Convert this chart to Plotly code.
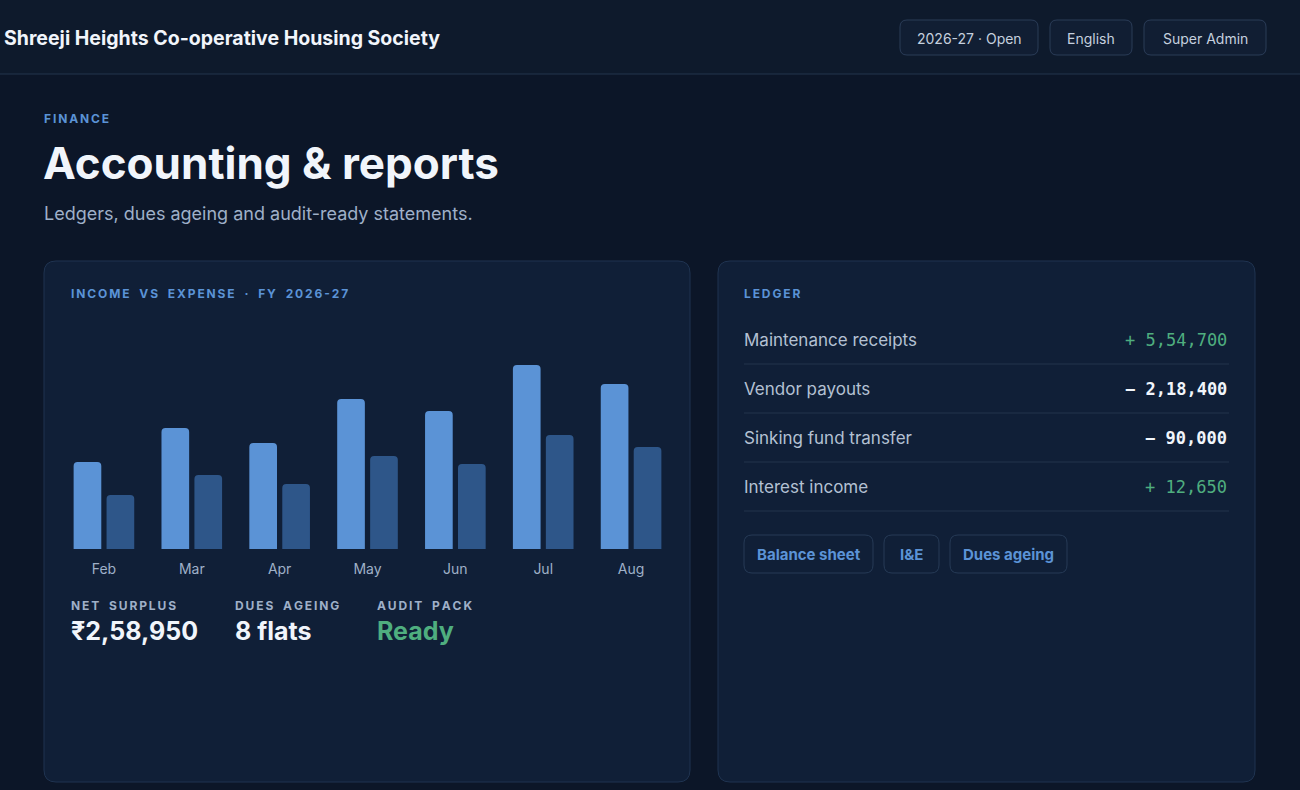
import plotly.graph_objects as go

W, H = 1300, 790

# Datos del gráfico (altura relativa de barras)
meses = ['Feb', 'Mar', 'Apr', 'May', 'Jun', 'Jul', 'Aug']
ingresos = [87, 121, 106, 150, 138, 184, 165]
gastos = [54, 74, 65, 93, 85, 114, 102]

ledger_items = ['Maintenance receipts', 'Vendor payouts', 'Sinking fund transfer', 'Interest income']
ledger_values = ['+ 5,54,700', '− 2,18,400', '− 90,000', '+ 12,650']
ledger_colors = ['#4fae7f', '#f1f5fb', '#f1f5fb', '#4fae7f']

kpi_labels = ['NET SURPLUS', 'DUES AGEING', 'AUDIT PACK']
kpi_values = ['₹2,58,950', '8 flats', 'Ready']
kpi_colors = ['#f1f5fb', '#f1f5fb', '#4fae7f']

header_pills = ['2026-27 · Open', 'English', 'Super Admin']
report_buttons = ['Balance sheet', 'I&E', 'Dues ageing']

FONT = 'Inter, Liberation Sans, sans-serif'
MONO = 'DejaVu Sans Mono, monospace'


def px(x):
    return x / W


def py(y):
    return 1 - y / H


def spaced(s):
    # letter-spacing aproximado con espacios finos
    return '\u2009'.join(s.replace(' ', '\u2002'))


def rrect(x0, y0, x1, y1, r, fill, line, lw=1):
    p = (f'M {px(x0 + r)},{py(y0)} L {px(x1 - r)},{py(y0)} '
         f'Q {px(x1)},{py(y0)} {px(x1)},{py(y0 + r)} L {px(x1)},{py(y1 - r)} '
         f'Q {px(x1)},{py(y1)} {px(x1 - r)},{py(y1)} L {px(x0 + r)},{py(y1)} '
         f'Q {px(x0)},{py(y1)} {px(x0)},{py(y1 - r)} L {px(x0)},{py(y0 + r)} '
         f'Q {px(x0)},{py(y0)} {px(x0 + r)},{py(y0)} Z')
    return dict(type='path', path=p, xref='paper', yref='paper', fillcolor=fill,
                line=dict(color=line, width=lw), layer='below')


shapes = []
annotations = []


def text(x, y, s, size, color, anchor='left', family=FONT, bold=False):
    if anchor == 'left':
        x -= 2
    annotations.append(dict(x=px(x), y=py(y), xref='paper', yref='paper', text=f'<b>{s}</b>' if bold else s,
                            showarrow=False, xanchor=anchor, yanchor='middle',
                            font=dict(size=size, color=color, family=family)))


# cabecera
shapes.append(dict(type='rect', xref='paper', yref='paper', x0=0, x1=1, y0=py(74), y1=1,
                   fillcolor='#0e1a2c', line=dict(width=0), layer='below'))
shapes.append(dict(type='line', xref='paper', yref='paper', x0=0, x1=1, y0=py(74), y1=py(74),
                   line=dict(color='#22344d', width=1), layer='below'))
text(4, 38, 'Shreeji Heights Co-operative Housing Society', 19.5, '#f1f5fb', bold=True)
pill_x = [(900, 1038), (1050, 1132), (1144, 1266)]
for (a, b), s in zip(pill_x, header_pills):
    shapes.append(rrect(a, 20, b, 55, 7, '#111e33', '#2a3c57'))
    text((a + b) / 2, 38, s, 14, '#c5d0df', anchor='center')

# títulos
text(44, 118, spaced('FINANCE'), 12, '#5b93d6', bold=True)
text(43, 163, 'Accounting &amp; reports', 44, '#f1f5fb', bold=True)
text(44, 213, 'Ledgers, dues ageing and audit-ready statements.', 18, '#9fb0c8')

# tarjetas
shapes.append(rrect(44, 261, 690, 782, 12, '#101f37', '#1f3350'))
shapes.append(rrect(718, 261, 1255, 782, 12, '#101f37', '#1f3350'))
text(71, 293, spaced('INCOME VS EXPENSE · FY 2026-27'), 12, '#5b93d6', bold=True)
text(744, 293, spaced('LEDGER'), 12, '#5b93d6', bold=True)

# KPIs
for x, lab, val, col in zip([71, 235, 377], kpi_labels, kpi_values, kpi_colors):
    text(x, 605, spaced(lab), 12, '#9fb0c8', bold=True)
    text(x, 631, val, 25, col, bold=True)

# ledger
for i, (it, v, c) in enumerate(zip(ledger_items, ledger_values, ledger_colors)):
    yc = 340 + i * 49
    text(744, yc, it, 17, '#b4c1d3')
    text(1229, yc, v, 17, c, anchor='right', family=MONO, bold=(c != '#4fae7f'))
    shapes.append(dict(type='line', xref='paper', yref='paper', x0=px(744), x1=px(1229),
                       y0=py(yc + 24), y1=py(yc + 24), line=dict(color='#22344d', width=1)))
btn_x = [(744, 873), (884, 939), (950, 1067)]
for (a, b), s in zip(btn_x, report_buttons):
    shapes.append(rrect(a, 535, b, 573, 8, '#101f37', '#263a56'))
    text((a + b) / 2, 554, s, 15, '#5b93d6', anchor='center', bold=True)

fig = go.Figure()
fig.add_trace(go.Bar(x=meses, y=ingresos, marker_color='#5b93d6', marker_line_width=0, name='Income'))
fig.add_trace(go.Bar(x=meses, y=gastos, marker_color='#2e5689', marker_line_width=0, name='Expense'))

fig.update_layout(
    width=W, height=H, margin=dict(l=0, r=0, t=0, b=0),
    paper_bgcolor='#0c1628', plot_bgcolor='rgba(0,0,0,0)',
    showlegend=False, barmode='group', bargap=0.25, bargroupgap=0.16,
    barcornerradius=4,
    xaxis=dict(domain=[px(60), px(675)], showgrid=False, zeroline=False, ticks='',
               ticklabelstandoff=10,
               tickfont=dict(size=14, color='#9fb0c8', family=FONT)),
    yaxis=dict(domain=[py(549), py(359)], range=[0, 190], visible=False),
    shapes=shapes, annotations=annotations,
)
fig.write_html('out.html', config={'displayModeBar': False},
               post_script="document.body.style.margin='0';document.body.style.background='#0c1628';")
